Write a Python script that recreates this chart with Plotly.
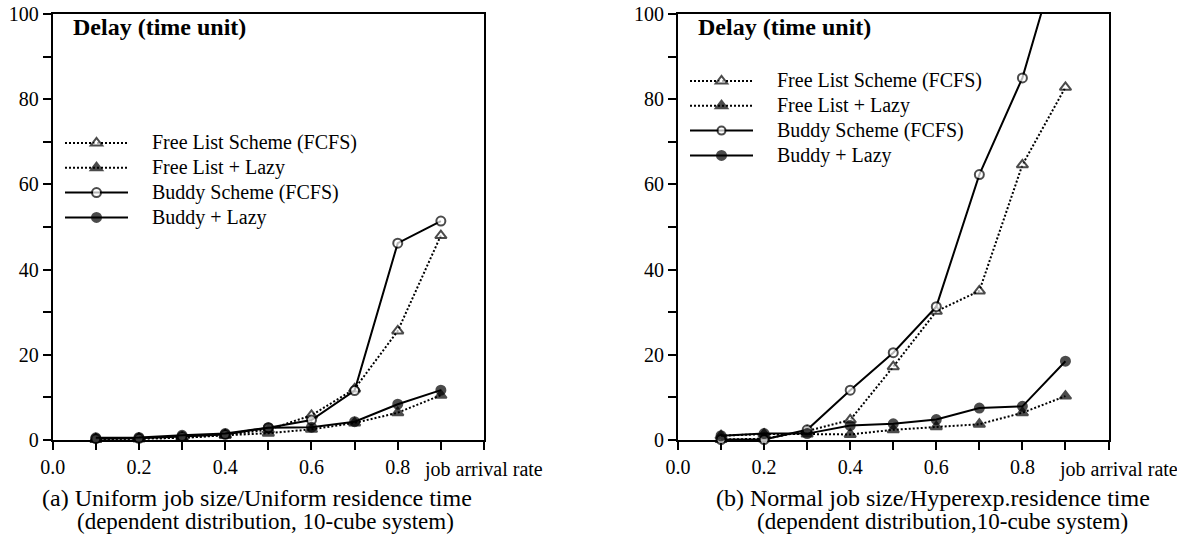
import plotly.graph_objects as go

W, H = 1177, 535

# ---------------- data ----------------
arrival_rate = [0.1, 0.2, 0.3, 0.4, 0.5, 0.6, 0.7, 0.8, 0.9]

# (a) Uniform job size / Uniform residence time
a_free_fcfs = [0.2, 0.3, 0.5, 1.2, 2.4, 5.8, 12.0, 25.6, 48.0]
a_free_lazy = [0.2, 0.3, 0.5, 1.1, 1.6, 2.5, 4.0, 6.4, 10.5]
a_buddy_fcfs = [0.3, 0.4, 0.8, 1.3, 2.9, 4.7, 11.6, 46.2, 51.4]
a_buddy_lazy = [0.5, 0.6, 1.1, 1.5, 2.9, 3.0, 4.3, 8.4, 11.7]

# (b) Normal job size / Hyperexp. residence time
b_free_fcfs = [0.1, 0.3, 2.1, 4.7, 17.2, 30.2, 35.0, 64.6, 82.8]
b_free_lazy = [1.0, 1.4, 1.4, 1.3, 2.4, 3.1, 3.7, 6.4, 10.3]
b_buddy_fcfs = [0.1, 0.1, 2.4, 11.7, 20.5, 31.3, 62.3, 85.0, 119.6]
b_buddy_lazy = [1.0, 1.5, 1.5, 3.4, 3.8, 4.8, 7.5, 7.9, 18.5]

series_names = ["Free List Scheme (FCFS)", "Free List + Lazy",
                "Buddy Scheme (FCFS)", "Buddy + Lazy"]

x_tickvals = [0.0, 0.2, 0.4, 0.6, 0.8, 1.0]
x_ticktext = ["0.0", "0.2", "0.4", "0.6", "0.8", ""]
y_tickvals = [0, 20, 40, 60, 80, 100]
y_ticktext = ["0", "20", "40", "60", "80", "100"]
y_max = 100

x_label = "job arrival rate"
y_label = "Delay (time unit)"
cap_a = ["(a) Uniform job size/Uniform residence time",
         "(dependent distribution, 10-cube system)"]
cap_b = ["(b) Normal job size/Hyperexp.residence time",
         "(dependent distribution,10-cube system)"]

# ---------------- layout helpers ----------------
FONT = "Liberation Serif, Times New Roman, serif"
ROW = 16.8 * 1.3 + 3  # legend row pitch in px


def px(x):
    return x / W


def py(y):
    return 1 - y / H


styles = [
    dict(dash="2px,2px", symbol="triangle-up", fill="white", size=10),
    dict(dash="2px,2px", symbol="triangle-up", fill="black", size=10),
    dict(dash="solid", symbol="circle", fill="white", size=9),
    dict(dash="solid", symbol="circle", fill="black", size=9),
]

fig = go.Figure()

panels = [
    ("x", "y", "legend", [a_free_fcfs, a_free_lazy, a_buddy_fcfs, a_buddy_lazy]),
    ("x2", "y2", "legend2", [b_free_fcfs, b_free_lazy, b_buddy_fcfs, b_buddy_lazy]),
]

for xa, ya, lg, data in panels:
    for name, vals, st in zip(series_names, data, styles):
        sizes = [st["size"] if v <= y_max else 0 for v in vals]
        fig.add_trace(go.Scatter(
            x=arrival_rate, y=vals, xaxis=xa, yaxis=ya, legend=lg,
            name="\u00a0", meta=name, hovertemplate=name + ": %{y}<extra></extra>",
            mode="lines+markers",
            line=dict(color="black", width=2, dash=st["dash"]),
            marker=dict(symbol=st["symbol"], size=sizes, color=st["fill"],
                        line=dict(color="black", width=2)),
            cliponaxis=False,
        ))

x_dom_a = [px(52.7), px(484.0)]
x_dom_b = [px(678.0), px(1108.5)]
y_dom = [py(440.0), py(14.0)]

axis_common = dict(
    showline=True, linewidth=2, linecolor="black", mirror=True,
    showgrid=False, zeroline=False, automargin=False,
    ticks="outside", ticklen=8, tickwidth=2, tickcolor="black",
    tickfont=dict(family=FONT, size=20, color="black"),
    layer="below traces",
)

xaxis_cfg = dict(axis_common, range=[0, 1], tickmode="array",
                 tickvals=x_tickvals, ticktext=x_ticktext,
                 minor=dict(dtick=0.1, tick0=0, ticks="outside", ticklen=8,
                            tickwidth=2, tickcolor="black"))
yaxis_cfg = dict(axis_common, range=[0, y_max], tickmode="array",
                 tickvals=y_tickvals, ticktext=y_ticktext,
                 minor=dict(dtick=10, tick0=0, ticks="outside", ticklen=8,
                            tickwidth=2, tickcolor="black"))

legend_common = dict(
    font=dict(family=FONT, size=16.8, color="black"),
    bgcolor="rgba(0,0,0,0)", borderwidth=0,
    itemwidth=63, tracegroupgap=0, xanchor="left", yanchor="top",
    itemclick=False, itemdoubleclick=False,
)


def ann(text, x, y, size, bold=False):
    return dict(text=("<b>" + text + "</b>") if bold else text,
                x=px(x), y=py(y), xref="paper", yref="paper",
                xanchor="left", yanchor="middle", showarrow=False,
                font=dict(family=FONT, size=size, color="black"))


annotations = []
legend_first_row = {52.7: 142.7, 678.0: 80.7}
for x0, cap, xl in [(52.7, cap_a, 426.7), (678.0, cap_b, 1064.6)]:
    annotations.append(ann(y_label, x0 + 18.5, 27, 24, bold=True))
    annotations.append(ann(x_label, xl - (5 if x0 < 600 else 8), 469, 20))
    for i, name in enumerate(series_names):
        annotations.append(ann(name, x0 + 97, legend_first_row[x0] + i * ROW, 20))

annotations.append(ann(cap_a[0], 40, 498, 24))
annotations.append(ann(cap_a[1], 75, 521, 23))
annotations.append(ann(cap_b[0], 714, 498, 24))
annotations.append(ann(cap_b[1], 755, 521, 23))

fig.update_layout(
    width=W, height=H,
    margin=dict(l=0, r=0, t=0, b=0, autoexpand=False),
    paper_bgcolor="white", plot_bgcolor="white",
    font=dict(family=FONT, color="black"),
    xaxis=dict(xaxis_cfg, domain=x_dom_a, anchor="y"),
    yaxis=dict(yaxis_cfg, domain=y_dom, anchor="x"),
    xaxis2=dict(xaxis_cfg, domain=x_dom_b, anchor="y2"),
    yaxis2=dict(yaxis_cfg, domain=y_dom, anchor="x2"),
    legend=dict(legend_common, x=px(60), y=py(125.5)),
    legend2=dict(legend_common, x=px(685), y=py(63.5)),
    annotations=annotations,
    showlegend=True,
)

fig.write_html("out.html",
               config={"displayModeBar": False},
               post_script="document.body.style.margin='0px';"
                           "document.body.style.padding='0px';"
                           "document.documentElement.style.overflow='hidden';")
